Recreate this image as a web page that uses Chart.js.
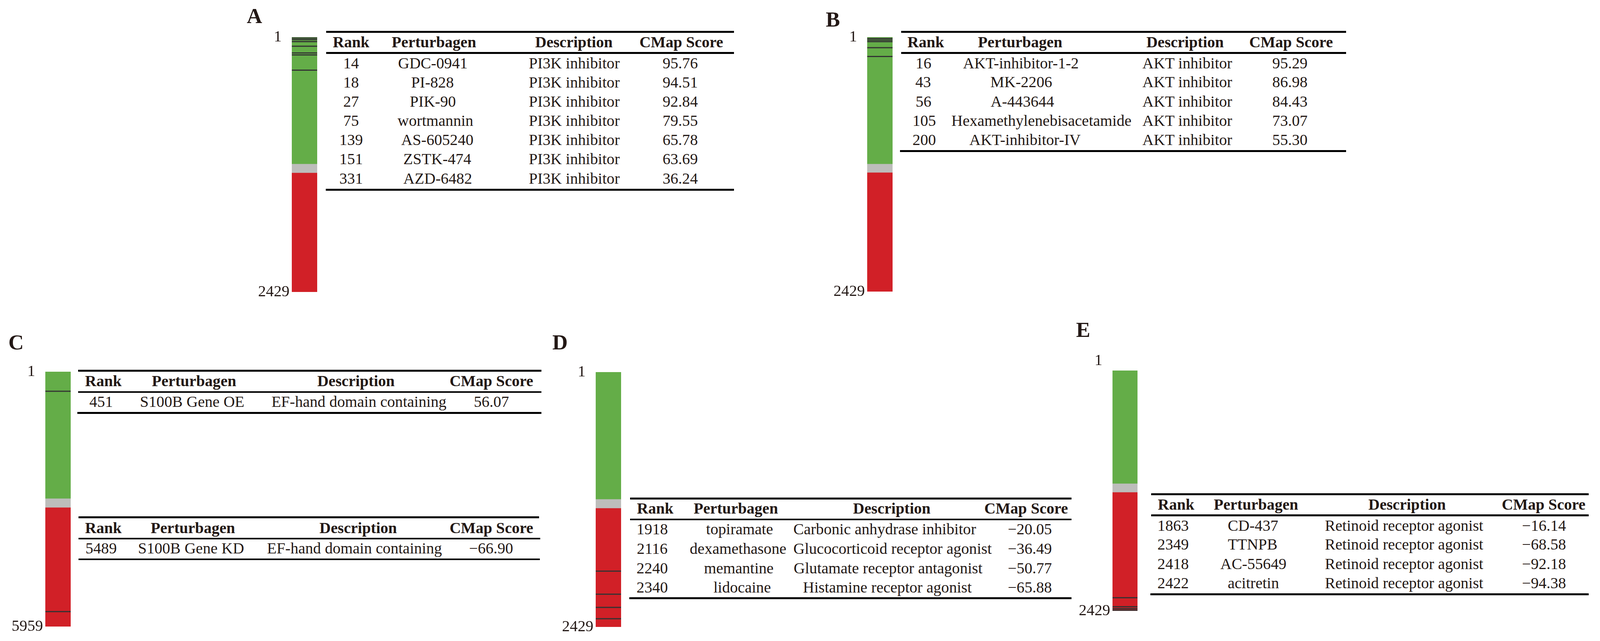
<!DOCTYPE html>
<html>
<head>
<meta charset="utf-8">
<title>CMap rank bars</title>
<script src="https://cdn.jsdelivr.net/npm/chart.js@4"></script>
<style>
html, body { margin: 0; padding: 0; background: #fff; }
#page { position: relative; width: 100%; height: 1640px; overflow: hidden; font-family: "Liberation Serif", serif; color: #231815; }
#page canvas { position: absolute; }
.cell { position: absolute; line-height: 1; white-space: nowrap; transform: translate(-50%, -50%); }
.head { font-weight: bold; }
.letter { position: absolute; font-weight: bold; line-height: 1; transform: translate(-50%, -50%); }
.rule { position: absolute; background: #000; }
</style>
</head>
<body>
<div id="page"></div>
<script>
const headers = ["Rank", "Perturbagen", "Description", "CMap Score"];

// A
const ranksA = [14, 18, 27, 75, 139, 151, 331];
const namesA = ["GDC-0941", "PI-828", "PIK-90", "wortmannin", "AS-605240", "ZSTK-474", "AZD-6482"];
const descA = ["PI3K inhibitor", "PI3K inhibitor", "PI3K inhibitor", "PI3K inhibitor", "PI3K inhibitor", "PI3K inhibitor", "PI3K inhibitor"];
const scoresA = [95.76, 94.51, 92.84, 79.55, 65.78, 63.69, 36.24];
const marksA = [10, 25, 44, 88, 152, 170, 316]; // stripe positions
const zonesA = [1208, 1293, 2429];

// B
const ranksB = [16, 43, 56, 105, 200];
const namesB = ["AKT-inhibitor-1-2", "MK-2206", "A-443644", "Hexamethylenebisacetamide", "AKT-inhibitor-IV"];
const descB = ["AKT inhibitor", "AKT inhibitor", "AKT inhibitor", "AKT inhibitor", "AKT inhibitor"];
const scoresB = [95.29, 86.98, 84.43, 73.07, 55.30];
const marksB = [14, 29, 44, 102, 186];
const zonesB = [1210, 1292, 2429];

// C
const ranksC1 = [451];
const namesC1 = ["S100B Gene OE"];
const descC1 = ["EF-hand domain containing"];
const scoresC1 = [56.07];
const ranksC2 = [5489];
const namesC2 = ["S100B Gene KD"];
const descC2 = ["EF-hand domain containing"];
const scoresC2 = [-66.90];
const marksC = [458, 5609];
const zonesC = [2963, 3173, 5959];

// D
const ranksD = [1918, 2116, 2240, 2340];
const namesD = ["topiramate", "dexamethasone", "memantine", "lidocaine"];
const descD = ["Carbonic anhydrase inhibitor", "Glucocorticoid receptor agonist", "Glutamate receptor antagonist", "Histamine receptor agonist"];
const scoresD = [-20.05, -36.49, -50.77, -65.88];
const marksD = [1897, 2117, 2243, 2351];
const zonesD = [1211, 1297, 2429];

// E
const ranksE = [1863, 2349, 2418, 2422];
const namesE = ["CD-437", "TTNPB", "AC-55649", "acitretin"];
const descE = ["Retinoid receptor agonist", "Retinoid receptor agonist", "Retinoid receptor agonist", "Retinoid receptor agonist"];
const scoresE = [-16.14, -68.58, -92.18, -94.38];
const marksE = [2296, 2387, 2406, 2422];
const zonesE = [1142, 1229, 2429];

const panels = [
    {
        letter: "A", letterPos: [682, 41], bar: [782, 850, 95, 747], marks: marksA, zones: zonesA,
        firstLabel: "1\u2007",
        tables: [{
            ranks: ranksA, names: namesA, desc: descA, scores: scoresA,
            rules: [[874, 1967, 79, 5], [874, 1967, 133, 5], [873, 1967, 483, 5]],
            headY: 108, rowY: [162, 211, 260, 309, 358, 407, 457],
            headX: [941, 1163, 1538, 1826],
            rankX: 941, nameX: [1160, 1159, 1160, 1167, 1172, 1172, 1173], descX: 1539, scoreX: 1823,
        }],
    },
    {
        letter: "B", letterPos: [2232, 50], bar: [2324, 2392, 95, 746], marks: marksB, zones: zonesB,
        firstLabel: "1\u2007",
        tables: [{
            ranks: ranksB, names: namesB, desc: descB, scores: scoresB,
            rules: [[2415, 3608, 79, 5], [2415, 3608, 133, 5], [2412, 3608, 384, 5]],
            headY: 108, rowY: [162, 210, 260, 309, 358],
            headX: [2481, 2734, 3176, 3460],
            rankX: [2475, 2474, 2475, 2477, 2477], nameX: [2736, 2737, 2740, 2791, 2747], descX: 3182, scoreX: 3457,
        }],
    },
    {
        letter: "C", letterPos: [43, 876], bar: [121, 189, 951, 1603], marks: marksC, zones: zonesC,
        firstLabel: "1\u2007",
        tables: [{
            ranks: ranksC1, names: namesC1, desc: descC1, scores: scoresC1,
            rules: [[209, 1451, 946, 5], [209, 1451, 1001, 4], [207, 1451, 1054, 5]],
            headY: 975, rowY: [1028],
            headX: [277, 520, 954, 1317],
            rankX: 271, nameX: 515, descX: 962, scoreX: 1317,
        }, {
            ranks: ranksC2, names: namesC2, desc: descC2, scores: scoresC2,
            rules: [[210, 1445, 1321, 5], [210, 1448, 1376, 4], [210, 1447, 1429, 4]],
            headY: 1351, rowY: [1403],
            headX: [277, 517, 960, 1317],
            rankX: 271, nameX: 512, descX: 950, scoreX: 1316,
        }],
    },
    {
        letter: "D", letterPos: [1501, 876], bar: [1596, 1664, 952, 1604], marks: marksD, zones: zonesD,
        firstLabel: "1\u2007",
        tables: [{
            ranks: ranksD, names: namesD, desc: descD, scores: scoresD,
            rules: [[1689, 2872, 1273, 5], [1689, 2872, 1327, 4], [1687, 2872, 1528, 5]],
            headY: 1301, rowY: [1354, 1404, 1454, 1503],
            headX: [1756, 1972, 2390, 2750],
            rankX: 1748, nameX: [1982, 1978, 1980, 1989], descX: [2371, 2392, 2380, 2378], scoreX: 2760,
        }],
    },
    {
        letter: "E", letterPos: [2903, 844], bar: [2981, 3048, 948, 1563], marks: marksE, zones: zonesE,
        firstLabel: ["1\u2007", ""], // sits well above the bar in this panel
        tables: [{
            ranks: ranksE, names: namesE, desc: descE, scores: scoresE,
            rules: [[3085, 4258, 1262, 5], [3085, 4258, 1316, 5], [3083, 4258, 1518, 5]],
            headY: 1291, rowY: [1345, 1393, 1443, 1492],
            headX: [3152, 3366, 3771, 4137],
            rankX: 3144, nameX: [3358, 3357, 3359, 3359], descX: 3763, scoreX: 4138,
        }],
    },
];

const page = document.getElementById("page");
const serif = "'Liberation Serif', serif";
const zoneColors = ["#64ad48", "#bdbdbb", "#d12027"];

// the window can come out narrower than the 4288 the layout was measured on
const sx = window.innerWidth / 4288;
const textSize = 42 * sx;
const axisWidth = 140;
const vPad = 60;

const addCell = (text, x, y, extra) => {
    const el = document.createElement("div");
    el.className = extra ? "cell " + extra : "cell";
    el.textContent = text;
    el.style.left = (x * sx) + "px";
    el.style.top = y + "px";
    el.style.fontSize = textSize + "px";
    page.appendChild(el);
};

const at = (v, i) => Array.isArray(v) ? v[i] : v;
const fmtScore = s => s.toFixed(2).replace("-", "\u2212");

const drawTable = t => {
    t.rules.forEach(([x0, x1, y, h]) => {
        const el = document.createElement("div");
        el.className = "rule";
        el.style.left = (x0 * sx) + "px";
        el.style.width = ((x1 - x0) * sx) + "px";
        el.style.top = y + "px";
        el.style.height = h + "px";
        page.appendChild(el);
    });
    headers.forEach((h, i) => addCell(h, t.headX[i], t.headY, "head"));
    t.ranks.forEach((r, i) => {
        addCell(String(r), at(t.rankX, i), t.rowY[i]);
        addCell(t.names[i], at(t.nameX, i), t.rowY[i]);
        addCell(t.desc[i], at(t.descX, i), t.rowY[i]);
        addCell(fmtScore(t.scores[i]), at(t.scoreX, i), t.rowY[i]);
    });
};

const drawBar = p => {
    const [left, right, top, bottom] = p.bar;
    const total = p.zones[p.zones.length - 1];
    const barWidth = Math.round((right - left) * sx);
    const barLeft = Math.round(left * sx);
    const canvas = document.createElement("canvas");
    canvas.width = axisWidth + barWidth;
    canvas.height = bottom - top + vPad * 2;
    canvas.style.left = (barLeft - axisWidth) + "px";
    canvas.style.top = (top - vPad) + "px";
    page.appendChild(canvas);

    const zoneSets = p.zones.map((end, i) => ({
        type: "bar",
        data: [[i === 0 ? 1 : p.zones[i - 1], end]],
        backgroundColor: zoneColors[i],
        barPercentage: 1,
        categoryPercentage: 1,
        grouped: false,
        order: 1,
    }));
    const markSet = {
        type: "line",
        data: p.marks.map(m => ({ x: "rank", y: m })),
        showLine: false,
        pointStyle: "line",
        pointRadius: barWidth / 2,
        pointBorderWidth: 3,
        pointBorderColor: "#333333",
        order: 0,
    };

    new Chart(canvas, {
        type: "bar",
        data: { labels: ["rank"], datasets: [...zoneSets, markSet] },
        options: {
            responsive: false,
            animation: false,
            layout: { autoPadding: false, padding: { top: vPad, bottom: vPad, left: 0, right: 0 } },
            plugins: { legend: { display: false }, tooltip: { enabled: false } },
            scales: {
                x: { type: "category", display: false, offset: true },
                y: {
                    type: "linear",
                    reverse: true,
                    min: 1,
                    max: total,
                    border: { display: false },
                    grid: { display: false, drawTicks: false },
                    afterBuildTicks: axis => { axis.ticks = [{ value: 1 }, { value: total }]; },
                    afterFit: axis => { axis.width = axisWidth; },
                    ticks: {
                        padding: 6,
                        color: "#231815",
                        font: { family: serif, size: textSize },
                        callback: v => v === 1 ? p.firstLabel : String(v),
                    },
                },
            },
        },
    });
};

panels.forEach(p => {
    const letter = document.createElement("div");
    letter.className = "letter";
    letter.textContent = p.letter;
    letter.style.left = (p.letterPos[0] * sx) + "px";
    letter.style.top = p.letterPos[1] + "px";
    letter.style.fontSize = (57 * sx) + "px";
    page.appendChild(letter);
    drawBar(p);
    p.tables.forEach(drawTable);
});
</script>
</body>
</html>
